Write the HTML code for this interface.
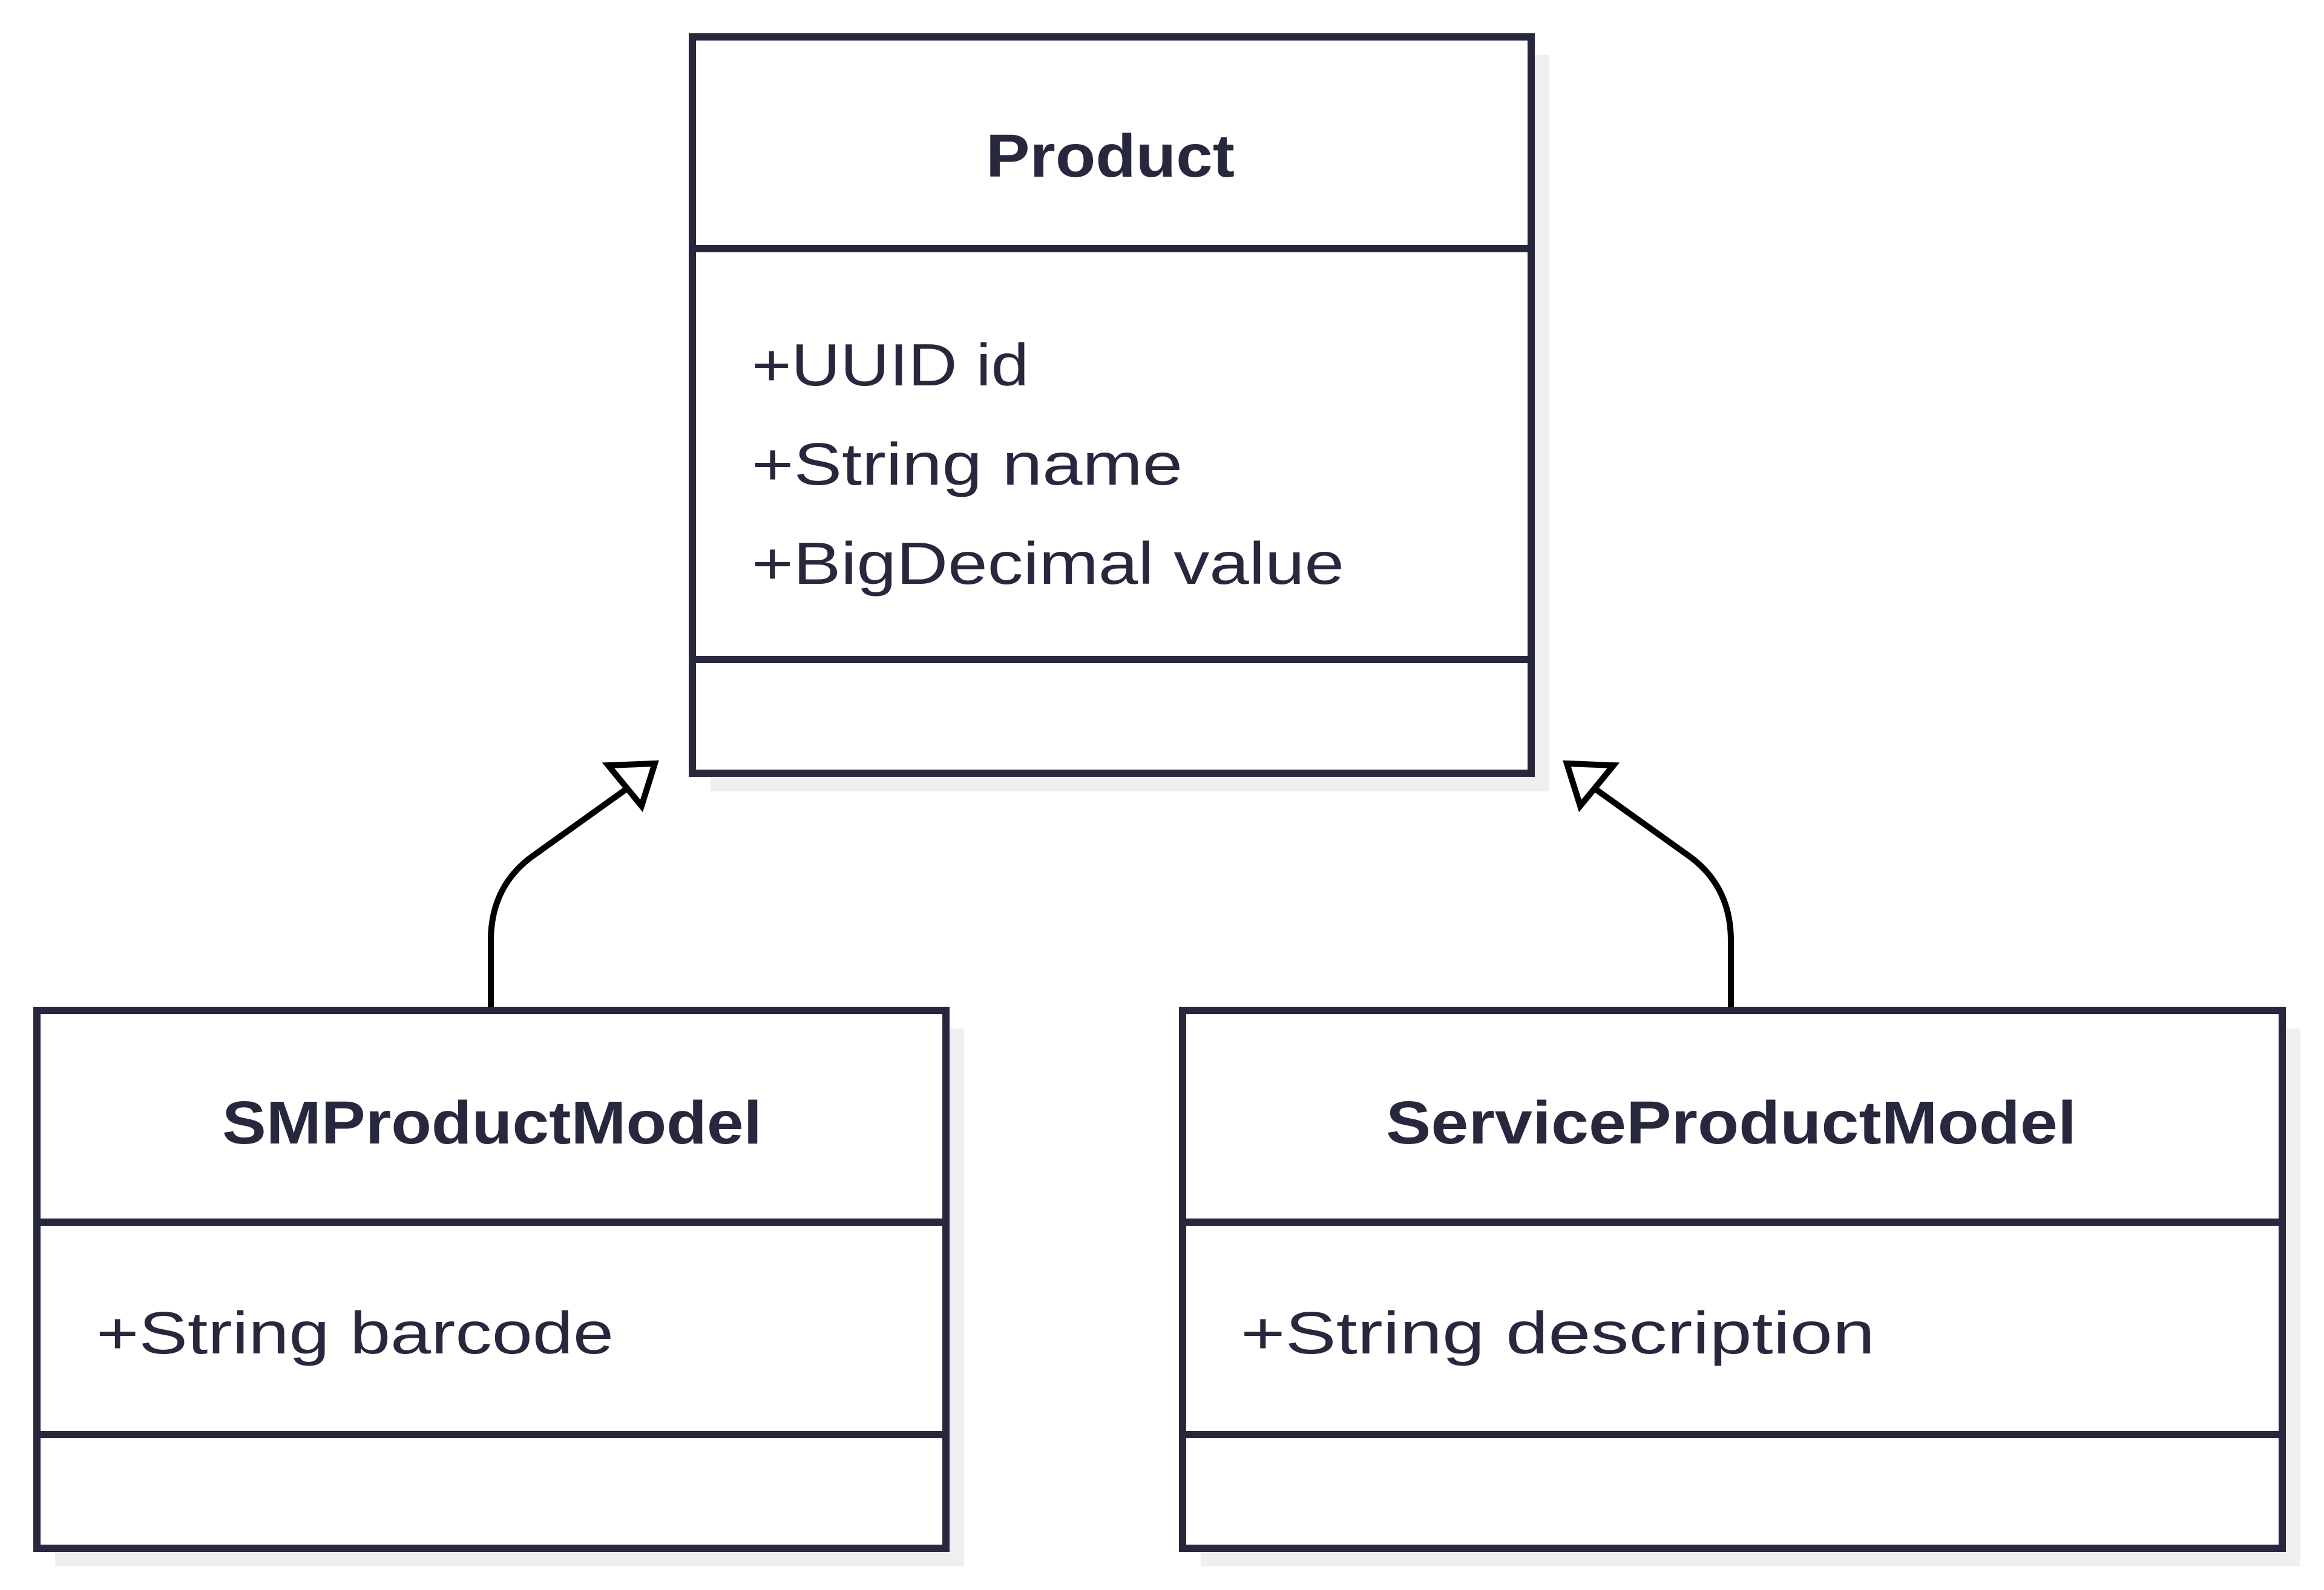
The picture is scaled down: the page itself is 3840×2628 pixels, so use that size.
<!DOCTYPE html>
<html><head><meta charset="utf-8"><style>
html,body{margin:0;padding:0;background:#fff;}
svg{display:block;}
text{font-family:"Liberation Sans",sans-serif;fill:#27273d;}
</style></head><body>
<svg width="3840" height="2628" viewBox="0 0 3840 2628" xmlns="http://www.w3.org/2000/svg">
<rect x="1174" y="91" width="1386" height="1217" fill="#efefef"/>
<rect x="91" y="1700" width="1502" height="889" fill="#efefef"/>
<rect x="1984" y="1700" width="1817" height="889" fill="#efefef"/>
<g fill="#fff" stroke="#27273d" stroke-width="12">
<rect x="1144" y="61" width="1386" height="1217"/>
<line x1="1144" y1="411" x2="2530" y2="411"/>
<line x1="1144" y1="1090" x2="2530" y2="1090"/>
<rect x="61" y="1670" width="1502" height="889"/>
<line x1="61" y1="2020" x2="1563" y2="2020"/>
<line x1="61" y1="2371" x2="1563" y2="2371"/>
<rect x="1954" y="1670" width="1817" height="889"/>
<line x1="1954" y1="2020" x2="3771" y2="2020"/>
<line x1="1954" y1="2371" x2="3771" y2="2371"/>
</g>
<g fill="none" stroke="#000" stroke-width="10">
<path d="M811 1665 L811 1555 Q811 1465 880 1415 L1045 1297"/>
<path d="M2860 1665 L2860 1555 Q2860 1465 2791 1415 L2626 1297"/>
<path d="M1082 1262 L1005 1265 L1060 1332 Z" fill="#fff"/>
<path d="M2589 1262 L2666 1265 L2611 1332 Z" fill="#fff"/>
</g>
<text x="1629" y="292" font-size="100" font-weight="bold" textLength="411" lengthAdjust="spacingAndGlyphs">Product</text>
<text x="1242" y="637" font-size="98" textLength="458" lengthAdjust="spacingAndGlyphs">+UUID id</text>
<text x="1242" y="801" font-size="98" textLength="712" lengthAdjust="spacingAndGlyphs">+String name</text>
<text x="1242" y="965" font-size="98" textLength="979" lengthAdjust="spacingAndGlyphs">+BigDecimal value</text>
<text x="367" y="1890" font-size="100" font-weight="bold" textLength="892" lengthAdjust="spacingAndGlyphs">SMProductModel</text>
<text x="159" y="2237" font-size="98" textLength="855" lengthAdjust="spacingAndGlyphs">+String barcode</text>
<text x="2290" y="1890" font-size="100" font-weight="bold" textLength="1141" lengthAdjust="spacingAndGlyphs">ServiceProductModel</text>
<text x="2050" y="2237" font-size="98" textLength="1048" lengthAdjust="spacingAndGlyphs">+String description</text>
</svg>
</body></html>
